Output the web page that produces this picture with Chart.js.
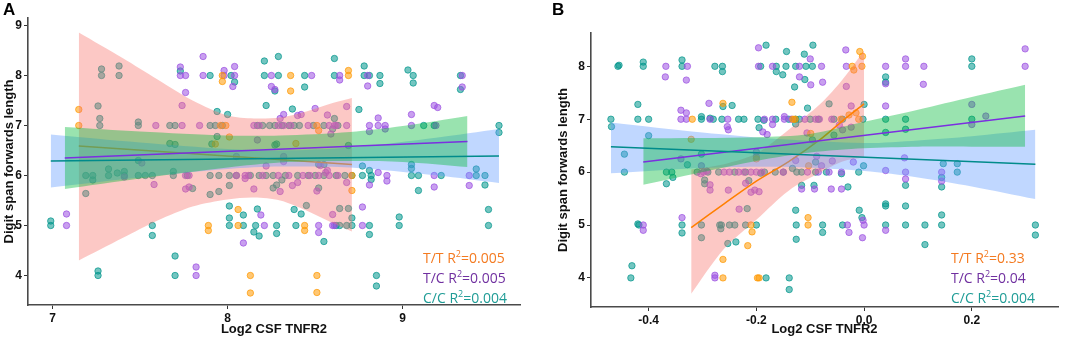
<!DOCTYPE html>
<html>
<head>
<meta charset="utf-8">
<script src="https://cdn.jsdelivr.net/npm/chart.js@4.4.0/dist/chart.umd.min.js"></script>
<style>
  body { margin:0; background:#fff; width:1084px; height:341px; overflow:hidden; position:relative; }
  .wrap { position:absolute; top:0; height:341px; }
  #wrapA { left:0; width:540px; }
  #wrapB { left:540px; width:544px; }
  .panel { position:absolute; top:0; font:bold 17px "Liberation Sans", Arial, sans-serif; color:#000; }
  .r2 { position:absolute; font:14px "Open Sans", sans-serif; line-height:20px; white-space:nowrap; }
  .r2 sup { font-size:9px; vertical-align:6px; line-height:0; }
  .tt { color:#F47A20; } .tc { color:#7030A0; } .cc { color:#1F9C96; }
</style>
</head>
<body>
<div class="wrap" id="wrapA"><canvas id="chartA" width="540" height="341"></canvas></div>
<div class="wrap" id="wrapB"><canvas id="chartB" width="544" height="341"></canvas></div>
<div class="panel" style="left:3px">A</div>
<div class="panel" style="left:552px">B</div>
<div class="r2" style="left:423px;top:248px">
  <div class="tt">T/T R<sup>2</sup>=0.005</div>
  <div class="tc">T/C R<sup>2</sup>=0.005</div>
  <div class="cc">C/C R<sup>2</sup>=0.004</div>
</div>
<div class="r2" style="left:951px;top:248px">
  <div class="tt">T/T R<sup>2</sup>=0.33</div>
  <div class="tc">T/C R<sup>2</sup>=0.04</div>
  <div class="cc">C/C R<sup>2</sup>=0.004</div>
</div>
<script>
// ---------- panel A : Log2 CSF TNFR2 ----------
const xTicksA = [7, 8, 9];
const yTicksA = [4, 5, 6, 7, 8, 9];

const aTT = [[7.15,7.32],[7.15,7.0],[7.89,5.0],[7.89,4.9],[7.93,6.63],[7.96,7.0],[7.99,7.0],[8.01,6.77],[7.97,8.0],[7.97,7.88],
  [8.06,5.32],[8.06,5.0],[8.13,4.0],[8.13,3.65],[8.36,8.0],[8.36,7.69],[8.39,6.64],[8.44,5.0],[8.44,4.9],[8.51,7.0],
  [8.52,6.9],[8.51,4.0],[8.51,3.66],[8.69,8.1],[8.69,8.0],[8.71,6.0],[8.71,5.7]];

const aTC = [[7.08,5.23],[7.08,5.0],[7.51,6.25],[7.41,5.97],[7.58,5.82],[7.59,7.0],[7.73,8.17],[7.73,8.0],[7.76,8.0],[7.76,7.66],
  [7.74,7.4],[7.74,7.0],[7.76,6.0],[7.78,6.0],[7.76,5.73],[7.78,5.77],[7.82,4.17],[7.82,4.0],[7.84,7.0],[7.86,8.38],
  [7.86,8.0],[7.98,8.1],[7.98,8.0],[8.04,8.18],[8.04,8.0],[8.03,7.78],[8.05,6.0],[8.1,5.94],[8.1,6.0],[8.09,4.65],
  [8.05,6.38],[8.15,7.0],[8.17,6.71],[8.15,5.73],[8.19,5.21],[8.21,5.0],[8.22,6.19],[8.25,8.0],[8.25,7.78],[8.27,7.72],
  [8.29,7.0],[8.3,7.14],[8.32,7.22],[8.32,7.0],[8.32,6.38],[8.32,6.28],[8.3,5.68],[8.29,6.0],[8.37,5.8],[8.4,5.86],
  [8.4,7.2],[8.42,7.22],[8.48,8.0],[8.5,7.34],[8.51,5.69],[8.47,6.0],[8.52,6.0],[8.53,6.2],[8.56,6.06],[8.57,6.1],
  [8.58,6.0],[8.52,5.0],[8.52,4.86],[8.57,7.21],[8.58,7.0],[8.59,6.83],[8.61,7.0],[8.62,7.0],[8.6,5.22],[8.6,5.0],
  [8.61,5.0],[8.64,8.0],[8.64,7.91],[8.68,7.38],[8.68,7.0],[8.68,5.86],[8.77,5.37],[8.77,5.0],[8.8,8.0],[8.8,7.79],
  [8.81,6.88],[8.81,7.0],[8.86,7.15],[8.86,7.0],[8.81,5.81],[8.86,6.06],[8.9,7.0],[8.9,6.93],[8.91,6.0],[8.91,5.89],
  [9.05,7.22],[9.05,7.0],[9.18,7.4],[9.2,7.36],[9.19,7.0],[9.18,6.0],[9.18,5.77],[9.34,8.0],[9.34,7.77],[9.38,6.0],
  [9.38,5.8],[8.12,6.0],[8.2,6.0],[8.35,6.0],[8.43,6.0],[8.63,6.0],[8.18,7.0],[8.36,7.0],[8.46,7.0]];

const aCC = [[6.99,5.09],[6.99,5.0],[7.19,5.64],[7.19,6.0],[7.23,6.0],[7.23,5.91],[7.26,7.39],[7.27,7.14],[7.27,7.0],[7.28,8.13],
  [7.28,8.0],[7.26,4.09],[7.26,4.0],[7.32,6.13],[7.32,6.0],[7.38,8.19],[7.38,8.0],[7.37,6.05],[7.41,6.08],[7.41,6.0],
  [7.49,7.07],[7.49,7.0],[7.49,6.3],[7.49,6.0],[7.57,6.0],[7.57,5.0],[7.57,4.8],[7.67,7.0],[7.67,6.64],[7.7,6.62],
  [7.69,6.08],[7.69,6.0],[7.7,4.39],[7.7,4.0],[7.73,8.09],[7.8,5.74],[7.9,8.0],[7.9,5.62],[7.95,5.68],[7.95,6.0],
  [7.94,7.28],[7.94,6.78],[7.91,6.63],[8.0,7.22],[8.01,5.8],[8.01,6.0],[8.01,5.39],[8.01,5.15],[8.01,5.0],[8.04,7.87],
  [8.02,8.0],[8.09,5.21],[8.09,5.0],[8.15,4.87],[8.16,5.0],[8.18,4.79],[8.17,5.33],[8.21,8.29],[8.21,8.0],[8.22,7.4],
  [8.27,7.69],[8.29,8.38],[8.29,8.0],[8.27,6.61],[8.28,6.63],[8.26,5.75],[8.28,5.81],[8.28,5.0],[8.28,4.84],[8.31,5.91],
  [8.37,7.33],[8.38,7.0],[8.38,5.32],[8.39,5.0],[8.42,5.23],[8.45,5.4],[8.44,8.0],[8.44,7.77],[8.52,6.22],[8.52,5.75],
  [8.55,6.22],[8.55,4.68],[8.61,8.0],[8.61,8.34],[8.61,7.14],[8.6,6.93],[8.64,5.34],[8.64,5.0],[8.69,6.6],[8.69,5.34],
  [8.71,5.15],[8.71,5.0],[8.75,7.32],[8.77,6.19],[8.77,6.0],[8.78,8.19],[8.78,8.0],[8.81,8.0],[8.81,6.1],[8.82,6.0],
  [8.82,5.92],[8.81,5.0],[8.81,4.82],[8.85,4.0],[8.85,3.79],[8.87,8.0],[8.87,7.84],[8.98,5.17],[8.98,5.0],[9.03,8.11],
  [9.06,8.0],[9.06,7.85],[9.05,6.22],[9.05,6.14],[9.05,6.0],[9.09,6.0],[9.09,5.7],[9.12,7.0],[9.18,7.0],[9.22,6.0],
  [9.33,8.0],[9.33,7.72],[9.42,6.13],[9.42,6.0],[9.47,6.0],[9.47,5.81],[9.49,5.32],[9.49,5.0],[9.55,7.0],[9.55,6.86],
  [7.7,7.0],[7.9,7.0],[7.93,7.0],[7.97,7.0],[8.17,7.0],[8.2,7.0],[8.24,7.0],[8.27,7.0],[8.31,7.0],[8.35,7.0],
  [8.41,7.0],[8.49,7.0],[8.55,7.0],[8.63,7.0],[7.53,6.0],[7.77,6.0],[7.9,6.0],[8.05,6.0],[8.13,6.0],[8.18,6.0],
  [8.22,6.0],[8.26,6.0],[8.33,6.0],[8.4,6.0],[8.46,6.0],[8.5,6.0],[8.55,6.0],[8.62,6.0],[8.67,6.0],[8.71,6.0],
  [8.62,5.0],[8.68,5.0]];

// fitted lines and 95% bands, panel A
const aTTlineX = [7.15, 8.71];
const aTTlineY = [6.59, 6.22];
const aTTbandX  = [7.15, 7.4, 7.6, 7.8, 8.0, 8.15, 8.3, 8.45, 8.6, 8.71];
const aTTbandHi = [8.86, 8.35, 7.92, 7.5, 7.2, 7.14, 7.16, 7.28, 7.45, 7.55];
const aTTbandLo = [4.3, 4.75, 5.1, 5.38, 5.52, 5.56, 5.5, 5.3, 5.05, 4.88];

const aTClineX = [7.07, 9.37];
const aTClineY = [6.35, 6.68];
const aTCbandX  = [7.07, 7.5, 8.0, 8.3, 8.7, 9.0, 9.37];
const aTCbandHi = [6.97, 6.88, 6.8, 6.8, 6.87, 6.99, 7.19];
const aTCbandLo = [5.73, 5.94, 6.16, 6.26, 6.29, 6.27, 6.17];

const aCClineX = [6.99, 9.55];
const aCClineY = [6.29, 6.39];
const aCCbandX  = [6.99, 7.5, 8.0, 8.3, 8.7, 9.2, 9.55];
const aCCbandHi = [6.82, 6.66, 6.53, 6.5, 6.56, 6.76, 6.93];
const aCCbandLo = [5.76, 5.96, 6.13, 6.18, 6.16, 6.0, 5.85];

// ---------- panel B : Log2 CSF TNFR2 ----------
const xTicksB = [-0.4, -0.2, 0.0, 0.2];
const yTicksB = [4, 5, 6, 7, 8];

const bTT = [[-0.321,6.62],[-0.319,7.0],[-0.262,7.3],[-0.262,4.35],[-0.262,4.0],[-0.216,4.61],[-0.208,4.87],[-0.21,5.0],[-0.198,4.0],[-0.195,4.0],
  [-0.2,6.25],[-0.134,7.32],[-0.132,7.0],[-0.128,7.0],[-0.104,5.14],[-0.104,5.0],[-0.103,6.12],[-0.099,6.73],[-0.043,7.0],[-0.028,7.08],
  [-0.015,7.12],[-0.022,8.0],[-0.019,7.93],[-0.008,8.28],[-0.003,8.19],[-0.004,8.0],[-0.01,7.0]];

const bTC = [[-0.41,5.0],[-0.41,4.9],[-0.368,8.0],[-0.369,7.8],[-0.338,5.14],[-0.34,7.17],[-0.33,7.12],[-0.328,8.0],[-0.33,7.74],[-0.34,7.0],
  [-0.33,7.0],[-0.34,6.25],[-0.302,6.12],[-0.303,5.97],[-0.298,6.0],[-0.288,7.3],[-0.286,7.0],[-0.292,6.02],[-0.286,5.76],[-0.286,5.66],
  [-0.277,4.05],[-0.277,4.0],[-0.254,6.86],[-0.252,6.8],[-0.253,7.0],[-0.252,5.66],[-0.232,5.3],[-0.233,6.0],[-0.223,6.0],[-0.22,5.79],
  [-0.21,5.62],[-0.203,5.66],[-0.2,6.38],[-0.2,6.29],[-0.196,8.0],[-0.196,8.35],[-0.195,5.63],[-0.2,6.0],[-0.185,7.0],[-0.188,6.76],
  [-0.18,6.71],[-0.17,8.0],[-0.17,7.0],[-0.17,6.9],[-0.148,7.05],[-0.148,7.0],[-0.135,7.0],[-0.127,6.22],[-0.12,7.8],[-0.12,8.0],
  [-0.116,5.68],[-0.106,6.74],[-0.1,8.14],[-0.099,7.65],[-0.092,5.68],[-0.079,8.0],[-0.077,7.7],[-0.088,6.3],[-0.083,7.0],[-0.079,6.12],
  [-0.059,6.21],[-0.061,5.68],[-0.046,6.89],[-0.04,6.8],[-0.034,8.31],[-0.033,8.0],[-0.033,7.62],[-0.042,6.0],[-0.042,5.68],[-0.031,5.0],
  [-0.028,4.86],[-0.024,7.25],[-0.024,6.85],[-0.02,6.19],[-0.002,5.09],[-0.003,4.76],[0.0,5.0],[0.04,8.0],[0.04,7.67],[0.04,7.25],
  [0.04,6.03],[0.04,4.9],[0.077,8.14],[0.077,8.0],[0.075,6.27],[0.077,6.0],[0.077,5.87],[0.111,8.0],[0.11,7.66],[0.144,5.83],
  [0.144,6.0],[0.2,7.28],[0.2,6.9],[0.226,7.06],[0.299,8.33],[0.299,8.0],[-0.26,6.0],[-0.25,6.0],[-0.21,6.0],[-0.19,6.0],
  [-0.15,6.0],[-0.105,6.0],[-0.085,6.0],[-0.065,6.0],[-0.11,7.0],[-0.09,7.0],[-0.06,7.0]];

const bCC = [[-0.47,7.0],[-0.469,6.86],[-0.457,8.0],[-0.455,8.02],[-0.445,6.34],[-0.445,6.0],[-0.431,4.23],[-0.433,4.0],[-0.42,5.02],[-0.418,5.0],
  [-0.42,7.28],[-0.42,7.0],[-0.41,8.08],[-0.41,8.0],[-0.4,7.0],[-0.4,6.69],[-0.367,6.0],[-0.367,5.78],[-0.357,6.0],[-0.355,5.9],
  [-0.338,8.12],[-0.338,8.0],[-0.338,5.0],[-0.338,4.85],[-0.328,6.14],[-0.302,7.05],[-0.302,7.0],[-0.302,6.34],[-0.302,5.0],[-0.302,4.76],
  [-0.296,5.85],[-0.296,5.78],[-0.286,7.02],[-0.28,7.0],[-0.277,8.0],[-0.263,8.0],[-0.263,7.9],[-0.262,7.24],[-0.245,7.26],[-0.268,5.0],
  [-0.266,4.93],[-0.253,4.65],[-0.238,4.68],[-0.264,7.0],[-0.233,7.0],[-0.223,7.0],[-0.217,5.31],[-0.214,5.84],[-0.197,7.0],[-0.192,8.0],
  [-0.182,8.4],[-0.195,6.84],[-0.186,6.98],[-0.192,5.98],[-0.182,4.0],[-0.163,8.0],[-0.163,7.9],[-0.145,8.0],[-0.144,8.28],[-0.151,7.84],
  [-0.164,7.0],[-0.139,4.0],[-0.139,3.78],[-0.133,6.07],[-0.127,8.0],[-0.129,7.61],[-0.127,7.0],[-0.127,6.91],[-0.127,5.28],[-0.126,5.0],
  [-0.126,4.73],[-0.116,5.75],[-0.116,6.0],[-0.111,8.23],[-0.108,8.0],[-0.096,8.0],[-0.095,8.4],[-0.11,7.75],[-0.105,7.21],[-0.096,6.61],
  [-0.093,5.75],[-0.077,5.0],[-0.077,4.86],[-0.09,6.19],[-0.09,6.0],[-0.065,7.29],[-0.056,6.7],[-0.056,7.0],[-0.042,5.97],[-0.04,5.0],
  [-0.03,5.72],[-0.009,5.28],[-0.004,5.14],[-0.001,6.12],[0.0,7.28],[-0.002,7.0],[-0.01,6.0],[0.04,7.7],[0.04,7.8],[0.04,7.0],
  [0.04,6.75],[0.04,5.4],[0.04,5.36],[0.04,5.0],[0.077,7.0],[0.077,6.81],[0.077,5.75],[0.077,5.36],[0.077,5.0],[0.113,5.0],
  [0.113,4.63],[0.144,5.19],[0.144,5.0],[0.147,6.16],[0.144,5.9],[0.144,5.72],[0.173,6.16],[0.173,6.0],[0.2,8.14],[0.2,8.0],
  [0.2,7.0],[0.318,5.0],[0.318,4.81],[-0.31,6.0],[-0.29,6.0],[-0.27,6.0],[-0.24,6.0],[-0.22,6.0],[-0.185,6.0],[-0.165,6.0],
  [-0.15,6.0],[-0.125,6.0],[-0.07,6.0],[-0.265,5.0],[-0.25,5.0],[-0.24,5.0],[-0.22,5.0],[-0.2,5.0],[-0.14,7.0],[-0.12,7.0],
  [-0.1,7.0],[-0.085,7.0],[-0.04,7.0]];

// fitted lines and 95% bands, panel B
const bTTlineX = [-0.321, -0.26, -0.2, -0.14, -0.08, -0.04, 0.0];
const bTTlineY = [4.95, 5.4, 5.83, 6.2, 6.63, 6.97, 7.29];
const bTTbandX  = [-0.321, -0.26, -0.2, -0.14, -0.08, -0.04, 0.0];
const bTTbandHi = [6.05, 6.15, 6.35, 6.8, 7.3, 7.75, 8.3];
const bTTbandLo = [3.7, 4.55, 5.1, 5.65, 6.0, 6.2, 6.28];

const bTClineX = [-0.41, 0.299];
const bTClineY = [6.19, 7.06];
const bTCbandX  = [-0.41, -0.2, -0.1, 0.0, 0.1, 0.2, 0.299];
const bTCbandHi = [6.64, 6.66, 6.72, 6.95, 7.18, 7.42, 7.65];
const bTCbandLo = [5.76, 6.21, 6.37, 6.45, 6.48, 6.48, 6.48];

const bCClineX = [-0.47, 0.318];
const bCClineY = [6.48, 6.15];
const bCCbandX  = [-0.47, -0.3, -0.15, 0.0, 0.1, 0.2, 0.318];
const bCCbandHi = [6.94, 6.75, 6.62, 6.55, 6.6, 6.68, 6.8];
const bCCbandLo = [5.98, 6.08, 6.1, 6.02, 5.9, 5.73, 5.49];

// colours
const colTT = '255,153,0', colTC = '155,80,225', colCC = '0,150,140';
const lineTT = '#FF7F00', lineTC = '#7B2FE0', lineCC = '#008B8B';
const bandPink = 'rgba(248,118,109,0.4)', bandGreen = 'rgba(0,186,56,0.4)', bandBlue = 'rgba(97,156,255,0.4)';

function points(arr, rgb) {
  return { type:'scatter', data: arr.map(p => ({x:p[0], y:p[1]})),
    backgroundColor:'rgba(' + rgb + ',0.55)', borderColor:'rgba(' + rgb + ',0.7)',
    borderWidth:1, pointRadius:3.2, order:10 };
}
function fitLine(xs, ys, color, order) {
  return { type:'line', data: xs.map((x,i) => ({x, y:ys[i]})), borderColor:color, borderWidth:1.5,
    pointRadius:0, fill:false, tension:0.3, order };
}
function band(xs, hi, lo, color, order) {
  return [
    { type:'line', data: xs.map((x,i) => ({x, y:lo[i]})), borderColor:'transparent', pointRadius:0, fill:false, tension:0.3, order },
    { type:'line', data: xs.map((x,i) => ({x, y:hi[i]})), borderColor:'transparent', pointRadius:0, fill:'-1',
      backgroundColor:color, tension:0.3, order }
  ];
}

const tickFont = { family:'"Liberation Sans", Arial, sans-serif', size:12, weight:'bold' };
const titleFont = { family:'"Liberation Sans", Arial, sans-serif', size:13, weight:'bold' };

function axes(xMin, xMax, xTicks, yMin, yMax, yTicks, yWidth, xHeight, yTitlePad, xFmt) {
  const common = {
    type:'linear',
    grid:{ drawOnChartArea:false, drawTicks:true, tickLength:4, color:'#333', lineWidth:1 },
    border:{ display:true, color:'#4a4a4a', width:1.6 },
    ticks:{ color:'#111', font:tickFont, padding:2, autoSkip:false, maxRotation:0 }
  };
  return {
    x: { ...common, min:xMin, max:xMax,
      afterBuildTicks: s => { s.ticks = xTicks.map(v => ({value:v})); },
      afterFit: s => { s.height = xHeight; },
      ticks:{ ...common.ticks, callback: v => xFmt(v) },
      title:{ display:true, text:'Log2 CSF TNFR2', color:'#111', font:titleFont, padding:{top:2, bottom:4} } },
    y: { ...common, min:yMin, max:yMax,
      afterBuildTicks: s => { s.ticks = yTicks.map(v => ({value:v})); },
      afterFit: s => { s.width = yWidth; },
      ticks:{ ...common.ticks, callback: v => String(v) },
      title:{ display:true, text:'Digit span forwards length', color:'#111', font:titleFont, padding:{top:yTitlePad, bottom:0} } }
  };
}

function makeChart(id, datasets, scales, padding) {
  new Chart(document.getElementById(id), {
    type:'scatter',
    data:{ datasets },
    options:{
      responsive:false, animation:false,
      layout:{ padding },
      plugins:{ legend:{ display:false }, tooltip:{ enabled:false } },
      scales
    }
  });
}

makeChart('chartA', [
  points(aTT, colTT), points(aTC, colTC), points(aCC, colCC),
  ...band(aTTbandX, aTTbandHi, aTTbandLo, bandPink, 7),
  fitLine(aTTlineX, aTTlineY, lineTT, 6),
  ...band(aCCbandX, aCCbandHi, aCCbandLo, bandBlue, 5),
  ...band(aTCbandX, aTCbandHi, aTCbandLo, bandGreen, 4),
  fitLine(aTClineX, aTClineY, lineTC, 3),
  fitLine(aCClineX, aCClineY, lineCC, 2)
], axes(6.86, 9.67, xTicksA, 3.41, 9.15, yTicksA, 28, 36, 2, v => String(v)),
  { left:0, top:18, right:20, bottom:0 });

makeChart('chartB', [
  points(bTT, colTT), points(bTC, colTC), points(bCC, colCC),
  ...band(bTTbandX, bTTbandHi, bTTbandLo, bandPink, 7),
  fitLine(bTTlineX, bTTlineY, lineTT, 6),
  ...band(bCCbandX, bCCbandHi, bCCbandLo, bandBlue, 5),
  ...band(bTCbandX, bTCbandHi, bTCbandLo, bandGreen, 4),
  fitLine(bTClineX, bTClineY, lineTC, 3),
  fitLine(bCClineX, bCClineY, lineCC, 2)
], axes(-0.507, 0.36, xTicksB, 3.45, 8.63, yTicksB, 51, 34, 16, v => v.toFixed(1)),
  { left:0, top:33, right:26, bottom:0 });
</script>
</body>
</html>
